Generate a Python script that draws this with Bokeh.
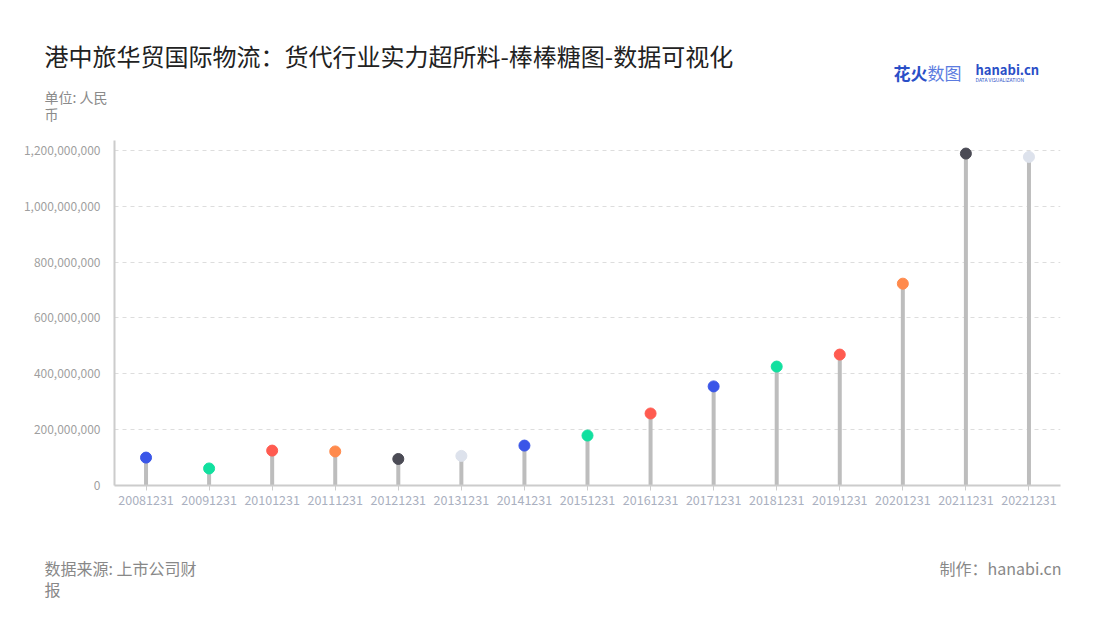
from bokeh.plotting import figure
from bokeh.layouts import column
from bokeh.models import ColumnDataSource, Range1d, Label, NumeralTickFormatter, FixedTicker
from bokeh.embed import file_html
from bokeh.resources import INLINE

# ---- data ----
periods = ["20081231", "20091231", "20101231", "20111231", "20121231",
           "20131231", "20141231", "20151231", "20161231", "20171231",
           "20181231", "20191231", "20201231", "20211231", "20221231"]
values = [100e6, 61e6, 125e6, 122e6, 95e6,
          106e6, 143e6, 179e6, 258e6, 355e6,
          426e6, 469e6, 723e6, 1189e6, 1177e6]
dot_colors = ["#3a56e8", "#11e09f", "#ff5b50", "#ff8a4c", "#4b4b55",
              "#dde2ec", "#3a56e8", "#11e09f", "#ff5b50", "#3a56e8",
              "#11e09f", "#ff5b50", "#ff8a4c", "#4b4b55", "#dde2ec"]
y_ticks = [0, 200e6, 400e6, 600e6, 800e6, 1000e6, 1200e6]

title_text = "港中旅华贸国际物流：货代行业实力超所料-棒棒糖图-数据可视化"
unit_lines = ["单位: 人民", "币"]
source_lines = ["数据来源: 上市公司财", "报"]
credit_text = "制作：hanabi.cn"

FONT = "Noto Sans CJK SC"
W = 1100
TOP_H = 140
MAIN_H = 380
BOT_H = 620 - TOP_H - MAIN_H


def text_panel(y0, y1):
    f = figure(width=W, height=y1 - y0, x_range=Range1d(0, W), y_range=Range1d(y1, y0),
               output_backend="svg", toolbar_location=None, x_axis_type=None, y_axis_type=None,
               min_border=0, min_border_left=0, min_border_right=0,
               min_border_top=0, min_border_bottom=0)
    f.outline_line_color = None
    f.grid.visible = False
    f.background_fill_color = "white"
    f.border_fill_color = "white"
    return f


def add_text(f, txt, px, py, size, color, align="left", weight="normal"):
    f.add_layout(Label(x=px, y=py, text=txt, text_font=FONT, text_font_size=size,
                       text_color=color, text_align=align, text_baseline="middle",
                       text_font_style=weight))


# ---- top texts ----
top = text_panel(0, TOP_H)
add_text(top, title_text, 44, 55, "24px", "#222222")
add_text(top, unit_lines[0], 44, 96, "14px", "#8a8a8a")
add_text(top, unit_lines[1], 44, 113, "14px", "#8a8a8a")
add_text(top, "花火", 893, 72, "17px", "#2a4fc7", weight="bold")
add_text(top, "数图", 927, 72, "17px", "#5b7be0")
add_text(top, "hanabi.cn", 975, 69, "13px", "#2a4fc7", weight="bold")
add_text(top, "DATA VISUALIZATION", 975, 79, "5px", "#2a4fc7")

# ---- main chart ----
src = ColumnDataSource(dict(x=periods, y=values, c=dot_colors, zero=[0] * len(values)))

p = figure(width=W, height=MAIN_H, x_range=periods, y_range=Range1d(0, 1.2358e9),
           output_backend="svg", toolbar_location=None,
           min_border_left=114, min_border_right=40, min_border_top=0, min_border_bottom=35)
p.outline_line_color = None
p.background_fill_color = "white"
p.border_fill_color = "white"

p.segment(x0="x", y0="zero", x1="x", y1="y", source=src, line_color="#bdbdbd", line_width=4)
p.scatter(x="x", y="y", source=src, size=11, fill_color="c", line_color="c")

p.xgrid.grid_line_color = None
p.ygrid.grid_line_color = "#dddddd"
p.ygrid.grid_line_dash = "4 4"
p.ygrid.grid_line_width = 1

p.yaxis.ticker = FixedTicker(ticks=y_ticks)
p.yaxis.formatter = NumeralTickFormatter(format="0,0")
p.yaxis.axis_line_color = "#cccccc"
p.yaxis.axis_line_width = 2
p.yaxis.major_tick_line_color = None
p.yaxis.minor_tick_line_color = None
p.yaxis.major_label_standoff = 8
p.yaxis.major_label_text_font = FONT
p.yaxis.major_label_text_font_size = "12px"
p.yaxis.major_label_text_color = "#9f9f9f"

p.xaxis.axis_line_color = "#cccccc"
p.xaxis.axis_line_width = 2
p.xaxis.major_tick_line_color = "#cccccc"
p.xaxis.major_tick_out = 5
p.xaxis.major_tick_in = 0
p.xaxis.major_label_standoff = 4
p.xaxis.major_label_text_font = FONT
p.xaxis.major_label_text_font_size = "12.5px"
p.xaxis.major_label_text_color = "#aab0c0"
p.x_range.range_padding = 0

# ---- bottom texts ----
bot = text_panel(TOP_H + MAIN_H, 620)
add_text(bot, source_lines[0], 44, 567, "16px", "#888888")
add_text(bot, source_lines[1], 44, 588, "16px", "#888888")
add_text(bot, credit_text, 1061, 567, "16px", "#888888", align="right")

layout = column(column(top), column(p), column(bot), spacing=0)
open("out.html", "w").write(file_html(layout, INLINE))
